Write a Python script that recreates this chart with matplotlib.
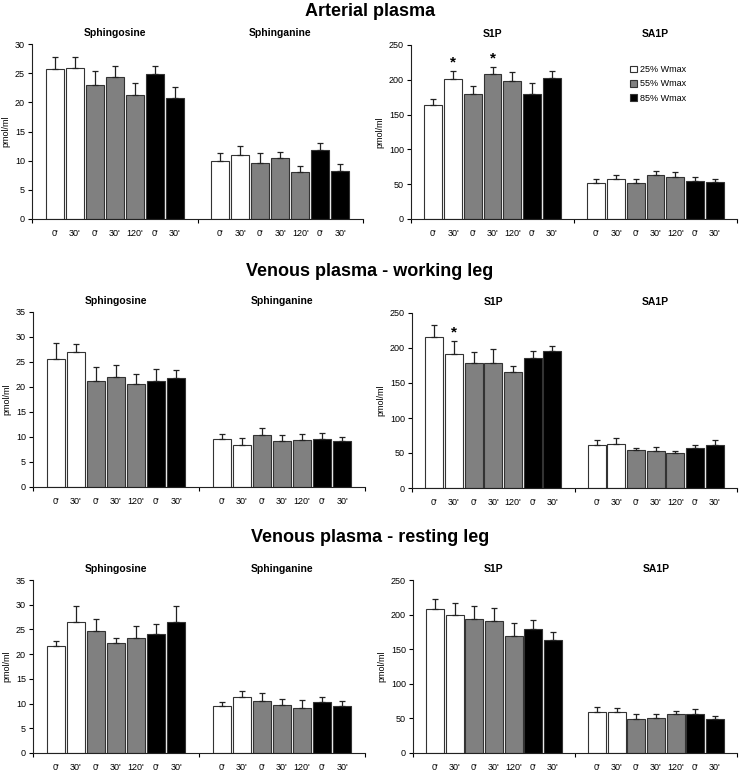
import numpy as np
import matplotlib
matplotlib.use("Agg")
import matplotlib.pyplot as plt
from matplotlib.patches import Patch

plt.rcParams['font.family'] = ['Liberation Sans', 'DejaVu Sans']

time_labels = ["0'", "30'", "0'", "30'", "120'", "0'", "30'"]
legend_labels = ["25% Wmax", "55% Wmax", "85% Wmax"]
row_titles = ["Arterial plasma", "Venous plasma - working leg", "Venous plasma - resting leg"]

# arterial plasma
art_sphingosine = [25.7, 25.9, 23.0, 24.4, 21.3, 24.9, 20.7]
art_sphingosine_err = [2.1, 1.9, 2.3, 1.8, 2.0, 1.3, 2.0]
art_sphinganine = [9.9, 11.0, 9.6, 10.5, 8.1, 11.8, 8.2]
art_sphinganine_err = [1.4, 1.5, 1.7, 1.0, 1.0, 1.3, 1.2]
art_s1p = [164, 201, 179, 208, 198, 180, 202]
art_s1p_err = [9, 12, 12, 11, 13, 16, 11]
art_sa1p = [51.6, 57, 51.6, 63, 60, 54, 53.5]
art_sa1p_err = [5.4, 6, 5.4, 6, 8, 6, 3.5]

# venous plasma - working leg
work_sphingosine = [25.6, 26.9, 21.2, 21.9, 20.6, 21.2, 21.7]
work_sphingosine_err = [3.1, 1.7, 2.7, 2.4, 1.9, 2.3, 1.7]
work_sphinganine = [9.6, 8.4, 10.3, 9.2, 9.4, 9.5, 9.1]
work_sphinganine_err = [0.9, 1.3, 1.5, 1.2, 1.1, 1.3, 0.8]
work_s1p = [215, 191, 178, 179, 165, 186, 195]
work_s1p_err = [18, 19, 16, 19, 9.5, 10, 8]
work_sa1p = [61, 62.5, 54, 53, 50.5, 57, 62]
work_sa1p_err = [8, 9, 3.7, 6, 2.9, 5, 6]

# venous plasma - resting leg
rest_sphingosine = [21.6, 26.6, 24.6, 22.3, 23.2, 24.1, 26.6]
rest_sphingosine_err = [1.1, 3.1, 2.5, 1.0, 2.4, 2.0, 3.1]
rest_sphinganine = [9.6, 11.3, 10.6, 9.7, 9.1, 10.3, 9.5]
rest_sphinganine_err = [0.8, 1.3, 1.6, 1.2, 1.7, 1.1, 1.1]
rest_s1p = [208, 200, 193, 191, 169, 179, 164]
rest_s1p_err = [14, 17, 20, 18, 18.5, 13, 10.5]
rest_sa1p = [59, 58.7, 49, 51, 56, 56.7, 48.6]
rest_sa1p_err = [7, 6.3, 7, 5, 4.6, 6.3, 4.4]

# significance marks: (row, panel, group, bar index)
stars = [(0, 1, 0, 1), (0, 1, 0, 3), (1, 1, 0, 1)]

fill = ['white', 'white', '#808080', '#808080', '#808080', 'black', 'black']
W, H = 740, 773
pitch = 0.121
bw = 0.11

# panel boxes in pixels: x0, x1, top, bottom
boxes = [
    [(32, 363, 44, 219), (411, 737, 45, 219)],
    [(33, 365, 312, 487), (412, 737, 313, 488)],
    [(33, 365, 580, 753), (413, 737, 580, 753)],
]
title_y = [11, 272, 538]

rows = [
    [(art_sphingosine, art_sphingosine_err, art_sphinganine, art_sphinganine_err, 30, 5),
     (art_s1p, art_s1p_err, art_sa1p, art_sa1p_err, 250, 50)],
    [(work_sphingosine, work_sphingosine_err, work_sphinganine, work_sphinganine_err, 35, 5),
     (work_s1p, work_s1p_err, work_sa1p, work_sa1p_err, 250, 50)],
    [(rest_sphingosine, rest_sphingosine_err, rest_sphinganine, rest_sphinganine_err, 35, 5),
     (rest_s1p, rest_s1p_err, rest_sa1p, rest_sa1p_err, 250, 50)],
]
subtitles = [["Sphingosine", "Sphinganine"], ["S1P", "SA1P"]]

fig = plt.figure(figsize=(W / 100, H / 100), dpi=100)
offs = (np.arange(7) - 3) * pitch

for r in range(3):
    fig.text(0.5, 1 - title_y[r] / H, row_titles[r], ha='center', va='center',
             fontsize=13, fontweight='bold')
    for p in range(2):
        x0, x1, top, bot = boxes[r][p]
        ax = fig.add_axes([x0 / W, 1 - bot / H, (x1 - x0) / W, (bot - top) / H])
        v1, e1, v2, e2, ymax, step = rows[r][p]
        for g, (vals, errs) in enumerate([(v1, e1), (v2, e2)]):
            xs = g + offs
            ax.bar(xs, vals, width=bw, color=fill, edgecolor='#333333', linewidth=0.8, zorder=2)
            ax.errorbar(xs, vals, yerr=[np.zeros(7), errs], fmt='none', ecolor='#222222',
                        elinewidth=0.9, capsize=2, capthick=0.9, zorder=3)
            ax.text(g, 1.065, subtitles[p][g], transform=ax.get_xaxis_transform(),
                    ha='center', va='center', fontsize=7.5, fontweight='bold')
        for (sr, sp, sg, si) in stars:
            if sr == r and sp == p:
                vals = v1 if sg == 0 else v2
                errs = e1 if sg == 0 else e2
                ax.annotate('*', (sg + offs[si], vals[si] + errs[si]), xytext=(0, 1),
                            textcoords='offset points', ha='center', va='bottom',
                            fontsize=11, fontweight='bold')
        ax.set_xlim(-0.5, 1.5)
        ax.set_ylim(0, ymax)
        ax.set_yticks(np.arange(0, ymax + 1, step))
        ax.set_xticks([-0.5, 0.5, 1.5])
        ax.set_xticklabels([])
        ax.set_xticks(np.concatenate([offs, 1 + offs]), minor=True)
        ax.set_xticklabels(time_labels * 2, minor=True)
        ax.tick_params(axis='x', which='minor', length=0, pad=7, labelsize=6.5)
        ax.tick_params(axis='x', which='major', length=3, width=0.8, direction='out')
        ax.tick_params(axis='y', length=3, width=0.8, direction='out', labelsize=6.5, pad=2)
        for s in ['top', 'right']:
            ax.spines[s].set_visible(False)
        for s in ['left', 'bottom']:
            ax.spines[s].set_linewidth(0.8)
            ax.spines[s].set_color('#222222')
        ax.set_ylabel('pmol/ml', fontsize=6.5, labelpad=3)
        if r == 0 and p == 1:
            handles = [Patch(facecolor=c, edgecolor='#333333', linewidth=0.8)
                       for c in ['white', '#808080', 'black']]
            ax.legend(handles, legend_labels, loc='upper left', bbox_to_anchor=(0.672, 0.885),
                      frameon=False, fontsize=6.5, handlelength=0.75, handleheight=0.75,
                      handletextpad=0.3, labelspacing=0.6, borderpad=0, borderaxespad=0)

fig.savefig('out.png', dpi=100)
